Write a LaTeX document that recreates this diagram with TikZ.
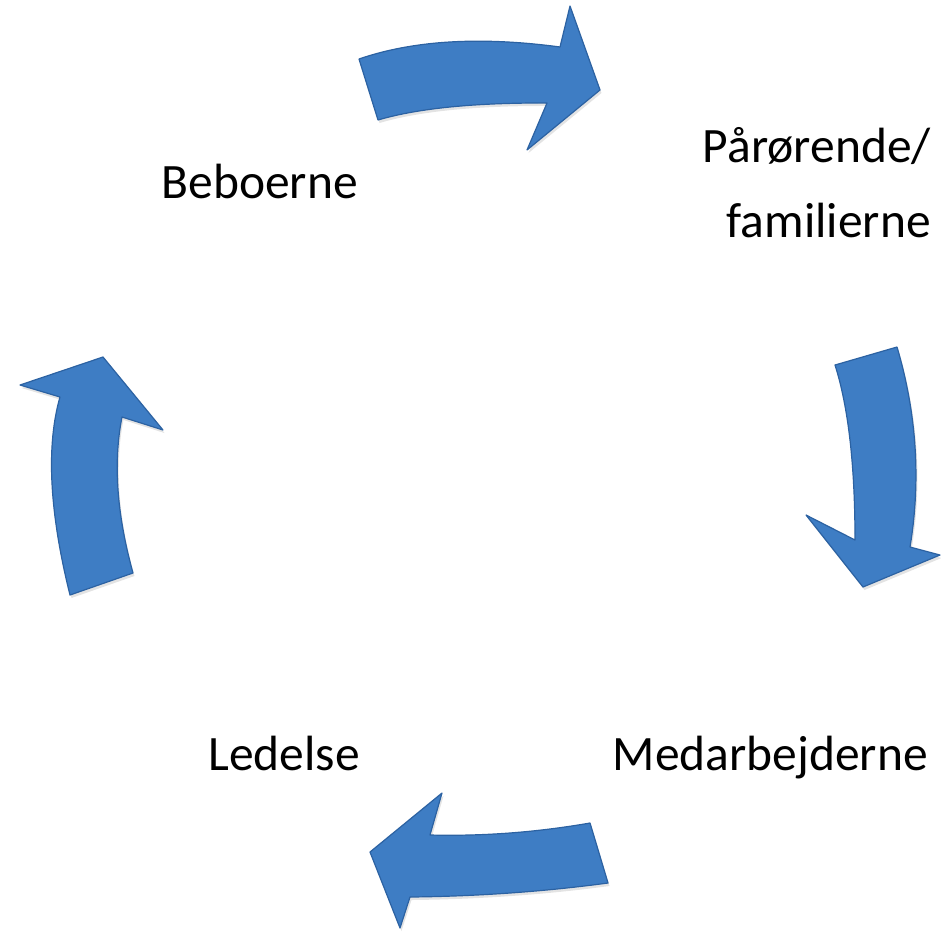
\documentclass[tikz,border=0pt]{standalone}
\usepackage{fontspec}
\setmainfont{Carlito}
\usetikzlibrary{shadows}
\definecolor{arrowblue}{RGB}{62,125,196}
\definecolor{arrowedge}{RGB}{44,98,162}
\tikzset{
  bigarrow/.style={fill=arrowblue, draw=arrowedge, line width=1.2pt, line join=round,
    drop shadow={opacity=0.22, shadow xshift=1.5pt, shadow yshift=-3pt}},
  label/.style={inner sep=0pt, font=\fontsize{49.5}{58}\selectfont, text=black}
}
\begin{document}
\begin{tikzpicture}[x=1pt, y=-1pt]
\useasboundingbox (0,0) rectangle (941,938);
% top arrow (Beboerne -> Paarorende)
\path[bigarrow] (359,59) .. controls (413.3,40.3) and (480.3,36.3) .. (560,47)
  -- (570,6) -- (600,90) -- (527,150) -- (547,103)
  .. controls (474,102.7) and (417.7,108.3) .. (378,120) -- cycle;
% right arrow (down)
\path[bigarrow] (897,347) .. controls (916.7,413.7) and (921,480.3) .. (910,547)
  -- (940,555) -- (863,587) -- (806,515) -- (855,540)
  .. controls (855,465) and (848.3,406.7) .. (835,365) -- cycle;
% bottom arrow (left)
\path[bigarrow] (370,852) -- (442,793) -- (430,835)
  .. controls (483.3,836.3) and (536.7,832.3) .. (590,823)
  -- (608,883)
  .. controls (543.3,891.7) and (477.3,896.3) .. (410,897)
  -- (400,928) -- cycle;
% left arrow (up)
\path[bigarrow] (103,357) -- (163,430) -- (122,417)
  .. controls (113,462.3) and (116.7,514.3) .. (133,573)
  -- (70,595)
  .. controls (49.3,511.7) and (46,445.7) .. (60,397)
  -- (20,385) -- cycle;
% labels
\node[label, anchor=base east] (beb) at (358,198) {Beboerne};
\node[label, anchor=base east] (par) at (931,162) {Pårørende/};
\node[label, anchor=base east] (fam) at (931,237) {familierne};
\node[label, anchor=base east] (led) at (360,770) {Ledelse};
\node[label, anchor=base east] (med) at (928,770) {Medarbejderne};
\end{tikzpicture}
\end{document}
